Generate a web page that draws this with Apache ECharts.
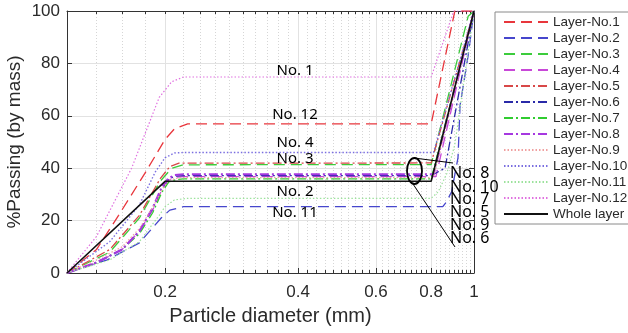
<!DOCTYPE html>
<html><head><meta charset="utf-8">
<script src="https://cdn.jsdelivr.net/npm/echarts@6/dist/echarts.min.js"></script>
<style>html,body{margin:0;padding:0;background:#fff}#c{width:628px;height:333px}</style>
</head><body><div id="c"></div>
<script>
// ---- data ----
const xMin = 0.12, xMax = 1;
const majorTicks = [0.2, 0.4, 0.6, 0.8, 1];
const majorLabels = ['0.2', '0.4', '0.6', '0.8', '1'];
const minorTicks = [0.14, 0.16, 0.18, 0.22, 0.24, 0.26, 0.28, 0.30, 0.32, 0.34, 0.36, 0.38,
  0.42, 0.44, 0.46, 0.48, 0.50, 0.52, 0.54, 0.56, 0.58, 0.62, 0.64, 0.66, 0.68, 0.70, 0.72,
  0.74, 0.76, 0.78, 0.82, 0.84, 0.86, 0.88, 0.90, 0.92, 0.94, 0.96, 0.98];
const yTicks = [0, 20, 40, 60, 80, 100];

const layer1 = [[0.12,0],[0.14,9],[0.157,22],[0.18,38],[0.2,51],[0.21,55],[0.225,56.9],[0.8,56.9],[0.905,100],[1,100]];
const layer2 = [[0.12,0],[0.148,5],[0.175,11.5],[0.196,21],[0.205,24],[0.22,25.3],[0.85,25.3],[0.865,27],[0.89,31],[0.92,44],[0.93,64],[0.97,83],[1,100]];
const layer3 = [[0.12,0],[0.15,8],[0.175,21],[0.195,35],[0.207,40],[0.22,41.3],[0.8,41.4],[0.97,98],[1,100]];
const layer4 = [[0.12,0],[0.14,4],[0.16,9],[0.175,16],[0.1875,24],[0.197,32],[0.204,35.5],[0.212,36.6],[0.22,36.8],[0.82,36.8],[1,100]];
const layer5 = [[0.12,0],[0.15,9],[0.175,22],[0.195,36],[0.205,40.6],[0.215,41.9],[0.8,42],[1,100]];
const layer6 = [[0.12,0],[0.14,4],[0.16,9],[0.175,16],[0.1875,24.5],[0.197,32.5],[0.204,36],[0.212,37],[0.22,37.2],[0.8,37.2],[0.86,40],[1,100]];
const layer7 = [[0.12,0],[0.14,4],[0.16,9],[0.175,15],[0.1875,23],[0.197,31],[0.204,34.8],[0.212,35.7],[0.22,35.9],[0.8,35.9],[1,100]];
const layer8 = [[0.12,0],[0.14,4],[0.16,9],[0.175,16],[0.1875,24.8],[0.191,27.9],[0.197,33],[0.2035,36.1],[0.2105,37.4],[0.22,37.7],[0.81,37.7],[1,100]];
const layer9 = [[0.12,0],[0.14,5],[0.16,10],[0.175,17],[0.1875,25],[0.197,32],[0.204,35.5],[0.215,36.3],[0.22,36.4],[0.81,36.4],[1,100]];
const layer10 = [[0.12,0],[0.15,12],[0.175,26],[0.19,38.5],[0.2,44],[0.21,45.8],[0.22,46],[0.81,46],[1,100]];
const layer11 = [[0.12,0],[0.15,5],[0.175,12],[0.194,22],[0.2,25.3],[0.21,27.9],[0.225,28.5],[0.8,28.5],[0.83,31],[0.868,38],[0.905,49],[1,100]];
const layer12 = [[0.12,0],[0.14,14],[0.168,40],[0.194,67],[0.207,73],[0.22,74.8],[0.8,74.8],[0.9,100],[1,100]];
const wholeLayer = [[0.12,0],[0.2,35],[0.8,35],[1,100]];

const seriesNames = ['Layer-No.1','Layer-No.2','Layer-No.3','Layer-No.4','Layer-No.5','Layer-No.6',
  'Layer-No.7','Layer-No.8','Layer-No.9','Layer-No.10','Layer-No.11','Layer-No.12','Whole layer'];
const seriesData = [layer1, layer2, layer3, layer4, layer5, layer6, layer7, layer8, layer9, layer10, layer11, layer12, wholeLayer];

// ---- styles ----
const DASH = [11, 6], DASHDOT = [9, 3, 2, 3], DOT = [1.5, 2];
const styles = [
  {color:'#e8363c', type:DASH, width:1.3},
  {color:'#4646cc', type:DASH, width:1.3},
  {color:'#3ccc3c', type:DASH, width:1.3},
  {color:'#c848d8', type:DASH, width:1.3},
  {color:'#d84848', type:DASHDOT, width:1.3},
  {color:'#2a2aa8', type:DASHDOT, width:1.3},
  {color:'#30cc30', type:DASHDOT, width:1.3},
  {color:'#a638e0', type:DASHDOT, width:2.2},
  {color:'#f0a0a0', type:DOT, width:1.2},
  {color:'#7a6ee0', type:DOT, width:1.4},
  {color:'#9ce29c', type:DOT, width:1.2},
  {color:'#e070e0', type:DOT, width:1.2},
  {color:'#111111', type:'solid', width:1.6}
];

const lg = v => Math.log10(v);
const FONT = '"Liberation Sans", Arial, sans-serif';
const AX = '#333';

const chart = echarts.init(document.getElementById('c'), null, {renderer:'canvas'});

const baseX = {type:'value', min: lg(xMin), max: lg(xMax), gridIndex:0};
const option = {
  animation:false,
  backgroundColor:'#fff',
  grid:{left:67, right:154, top:11, bottom:60, show:false, containLabel:false, outerBoundsMode:'none'},
  xAxis:[
    Object.assign({}, baseX, {position:'bottom',
      axisLine:{show:true, onZero:false, lineStyle:{color:AX}},
      axisTick:{show:true, inside:true, length:3, customValues: minorTicks.map(lg), lineStyle:{color:AX}},
      axisLabel:{show:false},
      splitLine:{show:true, lineStyle:{color:'#d6d6d6', type:[1,2], width:1}}}),
    Object.assign({}, baseX, {position:'bottom',
      axisLine:{show:false, onZero:false},
      axisTick:{show:true, inside:true, length:5, customValues: majorTicks.map(lg), lineStyle:{color:AX}},
      axisLabel:{show:true, customValues: majorTicks.map(lg), margin:11, fontSize:17, color:'#2a2a2a', fontFamily:FONT,
        formatter: v => { const i = majorTicks.findIndex(t => Math.abs(lg(t) - v) < 1e-6); return i >= 0 ? majorLabels[i] : ''; }},
      splitLine:{show:true, lineStyle:{color:'#e2e2e2', width:1}},
      name:'Particle diameter (mm)', nameLocation:'middle', nameGap:33,
      nameTextStyle:{fontSize:20, color:'#2a2a2a', fontFamily:FONT}}),
    Object.assign({}, baseX, {position:'top',
      axisLine:{show:true, onZero:false, lineStyle:{color:AX}},
      axisTick:{show:true, inside:true, length:3, customValues: minorTicks.concat(majorTicks).map(lg), lineStyle:{color:AX}},
      axisLabel:{show:false}, splitLine:{show:false}})
  ],
  yAxis:[
    {type:'value', min:0, max:100, interval:20, position:'left',
      axisLine:{show:true, onZero:false, lineStyle:{color:AX}},
      axisTick:{show:true, inside:true, length:5, lineStyle:{color:AX}},
      axisLabel:{margin:7, fontSize:17, color:'#2a2a2a', fontFamily:FONT},
      splitLine:{show:true, lineStyle:{color:'#e2e2e2', width:1}},
      name:'%Passing (by mass)', nameLocation:'middle', nameGap:43, nameMoveOverlap:false,
      nameTextStyle:{fontSize:19, color:'#2a2a2a', fontFamily:FONT}},
    {type:'value', min:0, max:100, interval:20, position:'right',
      axisLine:{show:true, onZero:false, lineStyle:{color:AX}},
      axisTick:{show:true, inside:true, length:5, lineStyle:{color:AX}},
      axisLabel:{show:false}, splitLine:{show:false}}
  ],
  legend:{
    orient:'vertical', left:495, top:12, padding:[3, 4, 3, 8],
    itemWidth:44, itemHeight:10, itemGap:2,
    backgroundColor:'#fff', borderColor:'#8a8a8a', borderWidth:1, borderRadius:0,
    itemStyle:{opacity:0},
    textStyle:{fontSize:13.5, color:'#2a2a2a', fontFamily:FONT},
    data: seriesNames
  },
  series: seriesNames.map((n, i) => ({
    name:n, type:'line', xAxisIndex:0, yAxisIndex:0,
    symbol:'none', smooth:false, z: i === 12 ? 5 : 2,
    lineStyle:{color:styles[i].color, type:styles[i].type, width:styles[i].width},
    itemStyle:{color:styles[i].color},
    data: seriesData[i].map(p => [lg(p[0]), p[1]])
  })),
  graphic:[]
};

const ANN = '15px "Noto Sans", sans-serif';
const leftNotes = [['No. 1',71],['No. 12',115],['No. 4',143],['No. 3',159],['No. 2',192],['No. 11',213]];
const rightNotes = [['No. 8',173],['No. 10',187],['No. 7',199],['No. 5',212],['No. 9',225],['No. 6',238]];
leftNotes.forEach(([t, y]) => option.graphic.push({type:'text', z:100,
  style:{text:t, x:295, y:y, align:'center', verticalAlign:'middle', font:ANN, fill:'#000'}}));
rightNotes.forEach(([t, y]) => option.graphic.push({type:'text', z:100,
  style:{text:t, x:450, y:y, align:'left', verticalAlign:'middle', font:'16px "Noto Sans", sans-serif', fill:'#000'}}));
option.graphic.push({type:'ellipse', z:100, shape:{cx:414.5, cy:171, rx:7.5, ry:13},
  style:{fill:'none', stroke:'#000', lineWidth:1.8}});
option.graphic.push({type:'line', z:100, shape:{x1:414, y1:158, x2:453, y2:163}, style:{stroke:'#000', lineWidth:1}});
option.graphic.push({type:'line', z:100, shape:{x1:413, y1:184, x2:455, y2:247}, style:{stroke:'#000', lineWidth:1}});

chart.setOption(option);
</script>
</body></html>
